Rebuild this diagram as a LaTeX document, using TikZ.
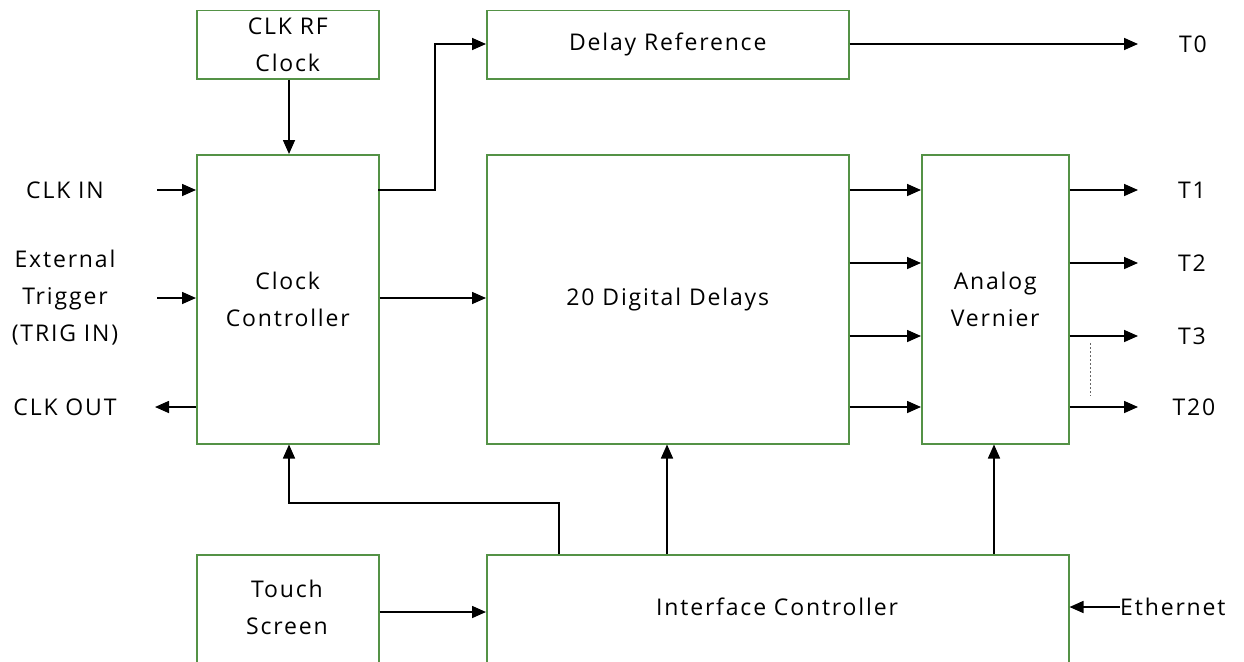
\documentclass[tikz,border=0pt]{standalone}
\usepackage{fontspec}
\setmainfont[LetterSpace=8]{Open Sans}
\usetikzlibrary{arrows.meta}
\definecolor{boxgreen}{RGB}{84,146,70}
\tikzset{
  blk/.style={draw=boxgreen, line width=1.5pt, rectangle, inner sep=0pt, align=center, anchor=north west},
  arr/.style={line width=1.6pt, -{Triangle[length=14pt,width=12pt]}},
  lbl/.style={align=center, inner sep=0pt}
}
\begin{document}
\begin{tikzpicture}[x=1pt,y=-1pt, font=\fontsize{23}{37}\selectfont]
\clip (0,0) rectangle (1244,661);
\fill[white] (0,0) rectangle (1244,661);
% blocks
\node[blk, minimum width=182pt, minimum height=68pt] (rf) at (196,10) {CLK RF\\Clock};
\node[blk, minimum width=362pt, minimum height=68pt] (dref) at (486,10) {Delay Reference};
\node[blk, minimum width=182pt, minimum height=289pt] (cc) at (196,154) {Clock\\Controller};
\node[blk, minimum width=362pt, minimum height=289pt] (dd) at (486,154) {20 Digital Delays};
\node[blk, minimum width=147pt, minimum height=289pt] (av) at (921,154) {Analog\\Vernier};
\node[blk, minimum width=182pt, minimum height=140pt] (ts) at (196,554) {};
\node[lbl] (tstext) at (287,607) {Touch\\Screen};
\node[blk, minimum width=582pt, minimum height=140pt] (ic) at (486,554) {};
\node[lbl] (ictext) at (777,607) {Interface Controller};
% labels
\node[lbl] (clkin) at (65,190) {CLK IN};
\node[lbl] (trig) at (65,298) {External\\Trigger\\(TRIG IN)};
\node[lbl] (clkout) at (65,407) {CLK OUT};
\node[lbl] (t0) at (1193,44) {T0};
\node[lbl] (t1) at (1192,190) {T1};
\node[lbl] (t2) at (1192,263) {T2};
\node[lbl] (t3) at (1192,336) {T3};
\node[lbl] (t20) at (1194,407) {T20};
\node[lbl, anchor=west] (eth) at (1120,607) {Ethernet};
% coordinates
\coordinate (ccR1) at (378,190);
\coordinate (bend1) at (435,190);
\coordinate (bend2) at (435,44);
\coordinate (clkinS) at (157,190);
\coordinate (trigS) at (157,298);
\coordinate (clkoutE) at (155,407);
\coordinate (t0E) at (1138,44);
% connectors
\draw[arr] (rf.south -| 289,0) -- (cc.north -| 289,0);
\draw[arr] (ccR1) -- (bend1) -- (bend2) -- (dref.west |- bend2);
\draw[arr] (dref.east |- t0E) -- (t0E);
\draw[arr] (clkinS) -- (cc.west |- clkinS);
\draw[arr] (trigS) -- (cc.west |- trigS);
\draw[arr] (cc.west |- clkoutE) -- (clkoutE);
\draw[arr] (cc.east |- 0,298) -- (dd.west |- 0,298);
\foreach \yy in {190,263,336,407}{
  \draw[arr] (dd.east |- 0,\yy) -- (av.west |- 0,\yy);
  \draw[arr] (av.east |- 0,\yy) -- (1138,\yy);
}
\draw[line width=1pt, dash pattern=on 2pt off 2pt, black!60] (1090,343) -- (1090,396);
\draw[arr] (ic.north -| 559,0) -- (559,503) -- (289,503) -- (cc.south -| 289,0);
\draw[arr] (ic.north -| 667,0) -- (dd.south -| 667,0);
\draw[arr] (ic.north -| 994,0) -- (av.south -| 994,0);
\draw[arr] (ts.east |- 0,612) -- (ic.west |- 0,612);
\draw[arr] (eth.west) -- (ic.east |- eth.west);
\end{tikzpicture}
\end{document}
